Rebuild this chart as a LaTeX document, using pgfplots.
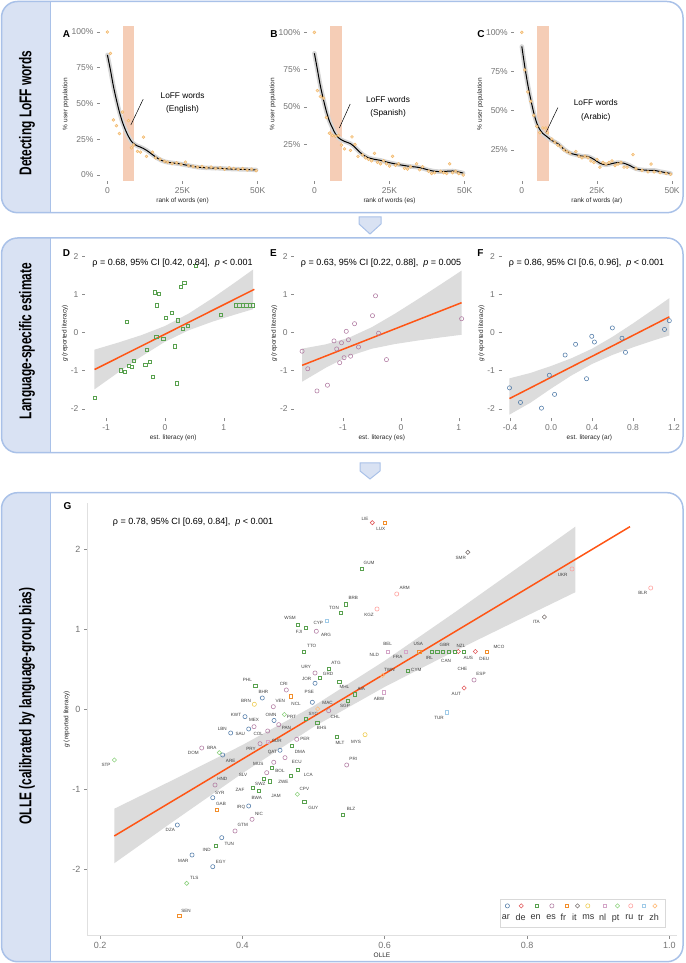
\documentclass[border=0pt]{standalone}
\usepackage{fontspec}
\setmainfont{Liberation Sans}
\newfontfamily\stripfont{Liberation Sans}[FakeStretch=0.7]
\usepackage{pgfplots}
\usepackage{pgfplotstable}
\pgfplotsset{compat=1.18}

\definecolor{boxline}{HTML}{A9C1E8}
\definecolor{stripfill}{HTML}{D9E2F3}
\definecolor{peach}{HTML}{F5CDB6}
\definecolor{dotor}{HTML}{F2B35E}
\definecolor{regline}{HTML}{FF5515}
\definecolor{bandc}{HTML}{DCDCDC}
\definecolor{cAR}{HTML}{4E79A7}
\definecolor{cDE}{HTML}{E15759}
\definecolor{cEN}{HTML}{59A14F}
\definecolor{cES}{HTML}{B07AA1}
\definecolor{cFR}{HTML}{F28E2B}
\definecolor{cIT}{HTML}{79706E}
\definecolor{cMS}{HTML}{EDC948}
\definecolor{cNL}{HTML}{D4A6C8}
\definecolor{cPT}{HTML}{8CD17D}
\definecolor{cRU}{HTML}{FF9D9A}
\definecolor{cTR}{HTML}{A0CBE8}
\definecolor{cZH}{HTML}{FFBE7D}

\pgfplotstableread{
x y
0 84
1 73.5
2 62
3 52.5
4 44
5 37
6 31.5
7 27
8 23.5
9 21.5
10 20.3
11 19.5
12 18.5
13 17.3
14 15.8
15 14.2
16 12.7
17 11.3
18 10.2
19 9.4
20 8.9
22 8.3
24 7.8
26 7
28 6.2
30 5.5
32 5.1
34 4.9
36 4.8
38 4.6
40 4.3
42 4.1
44 4.0
46 3.9
48 3.7
49.5 3.5
}\curveA
\pgfplotstableread{
x y
0 86
1 75
2 64
3 55
4 47
5 40.5
6 36
7 32
8 29.5
9 28
10 27
11 26.3
12 25.5
13 24
14 22
15 20
16 18.3
17 17
18 16
20 15
22 14.3
24 13.2
26 12.3
28 11.5
30 10.8
32 10.2
34 9.8
36 9
38 7.8
40 7
42 6.8
44 7
46 7.2
48 6.5
49.5 5.8
}\curveB
\pgfplotstableread{
x y
0 91
1 78
2 66.5
3 57
4 48.5
5 42
6 38
7 35.5
8 34
9 32.5
10 31
12 29
14 25.5
16 23
18 22
20 21
22 20.8
24 19
26 16.5
28 15.5
30 16.3
32 17
34 16.5
36 15
38 13
40 12.3
42 12
44 12
46 11.2
48 10.5
49.5 10
}\curveC

\pgfplotstableread{
x y lab
0.4670 1.1347 WSM
0.4796 0.9601 FJI
0.5067 1.0798 CYP
0.5176 0.9302 ARG
0.5288 1.2631 TON
0.5559 1.3915 BRB
0.4975 0.7893 TTO
0.5316 0.5773 ATG
0.4895 0.5274 URY
0.5204 0.4364 GRD
0.4904 0.3816 JOR
0.5433 0.2743 MHL
0.4070 0.3616 PHL
0.4581 0.3155 CRI
0.4295 0.2120 BHR
0.4941 0.2195 PSE
0.4051 0.1035 BRN
0.4533 0.1035 VEN
0.4754 0.0698 NCL
0.5197 0.0823 MAC
0.5442 0.0449 SGP
0.4997 -0.0623 SYC
0.5305 -0.0923 CHL
0.3911 -0.0711 KWT
0.4403 -0.0673 OMN
0.4691 -0.0998 PRT
0.4164 -0.1334 MEX
0.5115 -0.2369 BHS
0.3718 -0.2494 LBN
0.3971 -0.3117 SAU
0.4224 -0.3117 COL
0.4618 -0.2369 PAN
0.4880 -0.3703 PER
0.5372 -0.4165 MLT
0.5597 -0.4015 MYS
0.4122 -0.4950 PRY
0.4483 -0.3953 SUR
0.4421 -0.5362 QAT
0.4810 -0.5287 DMA
0.3311 -0.5412 DOM
0.3570 -0.4788 BRA
0.3836 -0.6446 ARE
0.4224 -0.6821 MUS
0.4764 -0.6609 ECU
0.4529 -0.7693 BOL
0.5559 -0.6197 PRI
0.2084 -0.6983 STP
0.4009 -0.8192 SLV
0.3718 -0.8691 HND
0.4927 -0.8192 LCA
0.4576 -0.9028 ZWE
0.4252 -0.9314 SWZ
0.3967 -1.0062 ZAF
0.4202 -1.1023 BWA
0.4473 -1.0811 JAM
0.4871 -0.9975 CPV
0.4997 -1.2269 GUY
0.5527 -1.2394 BLZ
0.3682 -1.0474 SYR
0.3700 -1.1846 GAB
0.3981 -1.2269 IRQ
0.4234 -1.3055 NIC
0.4005 -1.4427 GTM
0.2988 -1.5087 DZA
0.3817 -1.6758 TUN
0.3499 -1.7544 IND
0.3170 -1.8915 MAR
0.3696 -1.9003 EGY
0.3325 -2.0998 TLS
0.3208 -2.5113 SEN
0.5724 2.3691 LIE
0.5944 2.2519 LUX
0.7068 1.8903 SMR
0.5780 1.8280 GUM
0.8501 1.6708 UKR
0.9626 1.4464 BLR
0.6281 1.5087 ARM
0.5780 1.1758 KGZ
0.8130 1.0848 ITA
0.6042 0.8142 BEL
0.5854 0.6808 NLD
0.6183 0.6484 FRA
0.6472 0.8142 USA
0.6627 0.6397 IRL
0.6843 0.8055 GBR
0.6862 0.6060 CAN
0.7072 0.7930 NZL
0.7175 0.6397 AUS
0.7400 0.6309 DEU
0.7606 0.7768 MCO
0.7091 0.5025 CHE
0.7353 0.4364 ESP
0.7006 0.1908 AUT
0.6065 0.4900 TWN
0.6444 0.4938 CYM
0.5671 0.2531 AIA
0.5920 0.1284 ABW
0.6763 -0.1047 TUR
}\labelsG

\pgfplotsset{
  base/.style={scale only axis, anchor=south west,
    axis x line*=bottom, axis y line*=left, axis line style={draw=none},
    tick style={draw=black!45, line width=0.5pt}, major tick length=3pt, tick align=outside,
    ticklabel style={font=\fontsize{8.5}{9}\selectfont, text=black!55},
    xlabel style={font=\fontsize{6.5}{7}\selectfont, text=black!85, yshift=3pt},
    ylabel style={font=\fontsize{6.5}{7}\selectfont, text=black!85, yshift=-4pt},
    /pgf/number format/assume math mode=true},
  topax/.style={base, width=165.3pt, height=154pt, xmin=-2.5, xmax=52.5,
    xtick={0,25,50}, xticklabels={0,25K,50K}, ylabel={\% user population}},
  midax/.style={base, height=170pt, ymin=-2.25, ymax=2.2,
    ytick={-2,-1,0,1,2}, yticklabels={-2,-1,0,1,2},
    ylabel={\textit{g} (reported literacy)}},
  pts/.style={only marks, mark=*, mark size=1.45pt, line width=0.5pt,
    mark options={draw=dotor, fill=dotor!45}, opacity=0.9},
  sc/.style={only marks, mark size=1.7pt, line width=0.55pt,
    legend image code/.code={\draw[##1] plot coordinates {(0pt,12pt)};}},
  circ/.style={sc, mark=o, mark size=2.1pt},
  sq/.style={sc, mark=square, mark size=1.6pt},
  dia/.style={sc, mark=square, mark size=1.5pt, mark options={rotate=45}},
  band/.style={gray!32, line width=4.5pt, smooth, line cap=round, line join=round},
}

\begin{document}
\begin{tikzpicture}[x=1pt,y=1pt]
\useasboundingbox (0,0) rectangle (685,963);

% ---- section boxes ----
\foreach \yb/\yt in {750.3/961.5, 510.3/725, 1.3/470.3} {
  \begin{scope}
    \clip[rounded corners=16pt] (1.5,\yb) rectangle (683,\yt);
    \fill[stripfill] (1.5,\yb) rectangle (50,\yt);
  \end{scope}
  \draw[boxline, line width=1.5pt, rounded corners=16pt] (1.5,\yb) rectangle (683,\yt);
  \draw[boxline, line width=1pt] (50,\yb) -- (50,\yt);
}
\filldraw[fill=stripfill, draw=boxline, line width=1pt] (359,746) -- (381,746) -- (381,739) -- (370,729) -- (359,739) -- cycle;
\filldraw[fill=stripfill, draw=boxline, line width=1pt] (360,500) -- (380,500) -- (380,492) -- (370,484) -- (360,492) -- cycle;

\node[rotate=90, font=\stripfont\bfseries\fontsize{17}{18}\selectfont] at (27,850) {Detecting LoFF words};
\node[rotate=90, font=\stripfont\bfseries\fontsize{17}{18}\selectfont] at (27,622) {Language-specific estimate};
\node[rotate=90, font=\stripfont\bfseries\fontsize{17}{18}\selectfont] at (27,257) {OLLE (calibrated by language-group bias)};

% panel letters
\foreach \lx/\ly/\lt in {66.5/929/A, 274/929/B, 481/929/C, 66.5/710/D, 273.5/710/E, 480.5/710/F, 67.5/456.5/G}
  \node[font=\bfseries\fontsize{10}{11}\selectfont] at (\lx,\ly) {\lt};

% ================= A =================
\begin{axis}[topax, at={(99.9pt,782pt)}, ymin=-4.2, ymax=103.5,
  ytick={0,25,50,75,100}, yticklabels={0\%,25\%,50\%,75\%,100\%}, xlabel={rank of words (en)}]
\addplot[fill=peach, draw=none] coordinates {(5.2,-10) (9,-10) (9,200) (5.2,200)} -- cycle;
\addplot[band] table {\curveA};
\addplot[pts] coordinates {(0,100) (1,85) (2,38.5) (3,34.5) (4,29) (5,44) (7,38) (8,19) (8.7,21) (10,16.5) (11,16) (12,26.5) (13,13) (15,16) (16,12) (17.5,11) (19,9.5) (20,9) (21.5,8) (23,8.5) (24.5,7.5) (26,9) (27,6.5) (28.5,6) (30,5.5) (31.5,6) (33,5) (34.5,5.5) (36,4.5) (37.5,5) (39,4) (40.5,5) (42,4.5) (43.5,4) (45,4.5) (46.5,3.5) (48,4) (49.5,3)};
\addplot[black, line width=1pt, smooth] table {\curveA};
\draw[black, line width=0.5pt] (axis cs:7.8,35) -- (axis cs:11.9,53);
\node[align=center, font=\fontsize{8.3}{13.3}\selectfont] at (axis cs:25,50.3) {LoFF words\\(English)};
\end{axis}

% ================= B =================
\begin{axis}[topax, at={(306.9pt,782pt)}, ymin=0.5, ymax=103.6,
  ytick={25,50,75,100}, yticklabels={25\%,50\%,75\%,100\%}, xlabel={rank of words (es)}]
\addplot[fill=peach, draw=none] coordinates {(5.1,-10) (9.2,-10) (9.2,200) (5.1,200)} -- cycle;
\addplot[band] table {\curveB};
\addplot[pts] coordinates {(0,100) (1,61) (2,57) (3,56) (4,43) (5,32.5) (6,31) (7,30.5) (8,31) (9,24.5) (10,22) (12,21) (12.5,30) (13.5,25) (14.5,17) (16,18) (17,16) (18,15) (19,14) (20,19) (21,13) (22,12) (23,14) (24,12) (25,10.5) (26,17) (27,11) (28,12) (30,9) (31,8.5) (32,10) (34,12) (35,8) (36,10) (38,7) (39,5.5) (40,6) (42,7) (43,6) (44,5.5) (45,12) (46,6) (47,7) (48,5.5) (49.5,4.5)};
\addplot[black, line width=1pt, smooth] table {\curveB};
\draw[black, line width=0.5pt] (axis cs:8.3,36) -- (axis cs:11.9,52);
\node[align=center, font=\fontsize{8.3}{13.3}\selectfont] at (axis cs:24.5,50) {LoFF words\\(Spanish)};
\end{axis}

% ================= C =================
\begin{axis}[topax, at={(514.3pt,782pt)}, ymin=5.2, ymax=103.4,
  ytick={25,50,75,100}, yticklabels={25\%,50\%,75\%,100\%}, xlabel={rank of words (ar)}]
\addplot[fill=peach, draw=none] coordinates {(5,-10) (9.1,-10) (9.1,200) (5,200)} -- cycle;
\addplot[band] table {\curveC};
\addplot[pts] coordinates {(0,100) (1,76) (2,62) (3,56) (4,47) (5,40) (6,36) (7,39) (8,39) (8.5,36) (10,32) (11,30) (12,28) (13,27) (14,25) (15,24) (16,23) (18,24) (19,21) (20,20) (21,21) (22,20) (23,18) (24,17) (25,19) (26,14) (27,17) (28,16) (29,17) (30,18) (31,15) (32,16) (33,17) (34,14) (35,14) (37,22) (38,13) (40,12) (42,11) (43,16) (44,11) (46,10.5) (48,10) (49.5,9.5)};
\addplot[black, line width=1pt, smooth] table {\curveC};
\draw[black, line width=0.5pt] (axis cs:8,36) -- (axis cs:12,52);
\node[align=center, font=\fontsize{8.3}{13.3}\selectfont] at (axis cs:24.6,50.2) {LoFF words\\(Arabic)};
\end{axis}

% ================= D =================
\begin{axis}[midax, at={(85pt,544.55pt)}, width=176.4pt, xmin=-1.36, xmax=1.64,
  xtick={-1,0,1}, xticklabels={-1,0,1}, xlabel={est. literacy (en)}]
\addplot[fill=bandc, draw=none] coordinates {(-1.2,-0.45) (-0.8,-0.267) (-0.4,-0.069) (0,0.17) (0.4,0.493) (0.8,0.89) (1.2,1.319) (1.5,1.65) (1.5,0.61) (1.2,0.473) (0.8,0.28) (0.4,0.055) (0,-0.244) (-0.4,-0.627) (-0.8,-1.051) (-1.2,-1.49)} -- cycle;
\addplot[sq, cEN] coordinates {(-1.197,-1.71) (-0.758,-0.99) (-0.677,-1.03) (-0.654,0.28) (-0.61,-0.88) (-0.558,-0.9) (-0.528,-0.74) (-0.335,-0.84) (-0.305,-0.46) (-0.26,-0.77) (-0.208,-1.16) (-0.178,1.05) (-0.149,-0.12) (-0.134,0.71) (-0.104,1.01) (-0.03,-0.17) (0.015,0.38) (0.119,0.51) (0.164,-0.36) (0.2,-1.33) (0.223,0.32) (0.268,1.19) (0.297,0.1) (0.327,1.3) (0.387,0.17) (0.52,1.74) (0.944,0.47) (1.204,0.71) (1.264,0.71) (1.323,0.71) (1.383,0.71) (1.442,0.71) (1.5,0.71)};
\addplot[regline, line width=1.5pt] coordinates {(-1.197,-0.97) (1.52,1.13)};
\end{axis}
\node[font=\fontsize{9}{10}\selectfont] at (172.5,700.3) {ρ = 0.68, 95\% CI [0.42, 0.84],\ \ \textit{p} < 0.001};

% ================= E =================
\begin{axis}[midax, at={(294.1pt,544.55pt)}, width=175.5pt, xmin=-1.844, xmax=1.187,
  xtick={-1,0,1}, xticklabels={-1,0,1}, xlabel={est. literacy (es)}]
\addplot[fill=bandc, draw=none] coordinates {(-1.706,-0.423) (-1.3,-0.311) (-0.9,-0.139) (-0.5,0.14) (-0.1,0.494) (0.3,0.877) (0.7,1.271) (1.049,1.62) (1.049,-0.06) (0.7,-0.127) (0.3,-0.209) (-0.1,-0.302) (-0.5,-0.424) (-0.9,-0.621) (-1.3,-0.925) (-1.706,-1.289)} -- cycle;
\addplot[circ, cES] coordinates {(-1.706,-0.49) (-1.608,-0.95) (-1.449,-1.53) (-1.268,-1.38) (-1.155,-0.22) (-1.109,-0.43) (-1.057,-0.79) (-1.026,-0.27) (-0.981,-0.66) (-0.943,0.03) (-0.906,-0.19) (-0.868,-0.62) (-0.8,0.23) (-0.732,-0.38) (-0.49,0.44) (-0.438,0.96) (-0.385,-0.02) (-0.249,-0.71) (1.049,0.36)};
\addplot[regline, line width=1.5pt] coordinates {(-1.706,-0.86) (1.049,0.78)};
\end{axis}
\node[font=\fontsize{9}{10}\selectfont] at (381,700.3) {ρ = 0.63, 95\% CI [0.22, 0.88],\ \ \textit{p} = 0.005};

% ================= F =================
\begin{axis}[midax, at={(501.5pt,544.55pt)}, width=175.8pt, xmin=-0.484, xmax=1.232,
  xtick={-0.4,0,0.4,0.8,1.2}, xticklabels={-0.4,0.0,0.4,0.8,1.2}, xlabel={est. literacy (ar)}]
\addplot[fill=bandc, draw=none] coordinates {(-0.406,-1.2) (-0.2,-1.058) (0,-0.877) (0.2,-0.673) (0.4,-0.424) (0.6,-0.112) (0.8,0.238) (1.0,0.608) (1.154,0.898) (1.154,-0.078) (1.0,-0.208) (0.8,-0.388) (0.6,-0.586) (0.4,-0.824) (0.2,-1.123) (0,-1.469) (-0.2,-1.836) (-0.406,-2.15)} -- cycle;
\addplot[circ, cAR] coordinates {(-0.406,-1.45) (-0.299,-1.83) (-0.094,-1.98) (-0.017,-1.12) (0.034,-1.62) (0.137,-0.59) (0.239,-0.31) (0.346,-1.21) (0.397,-0.1) (0.423,-0.25) (0.598,0.12) (0.692,-0.15) (0.726,-0.52) (1.107,0.08) (1.154,0.31)};
\addplot[regline, line width=1.5pt] coordinates {(-0.406,-1.73) (1.154,0.41)};
\end{axis}
\node[font=\fontsize{9}{10}\selectfont] at (586.5,700.3) {ρ = 0.86, 95\% CI [0.6, 0.96],\ \ \textit{p} < 0.001};

% ================= G =================
\begin{axis}[base, at={(87pt,27.3pt)}, width=590pt, height=432.7pt,
  xmin=0.1817, xmax=1.0107, ymin=-2.823, ymax=2.572,
  axis line style={draw=black!12, line width=0.8pt},
  ticklabel style={font=\fontsize{9}{10}\selectfont, text=black!55},
  xtick={0.2,0.4,0.6,0.8,1.0}, xticklabels={0.2,0.4,0.6,0.8,1.0},
  ytick={-2,-1,0,1,2}, yticklabels={-2,-1,0,1,2},
  xlabel={OLLE}, xlabel style={font=\fontsize{6.5}{7}\selectfont},
  ylabel={\textit{g} (reported literacy)},
  legend columns=12,
  legend style={at={(0.98,0.0185)}, anchor=south east, draw=black!15, line width=0.6pt,
    font=\fontsize{9}{10}\selectfont, text=black!80, inner xsep=5pt, inner ysep=4.5pt,
    nodes={inner sep=1pt},
    /tikz/every odd column/.append style={column sep=-8.6pt},
    /tikz/every even column/.append style={column sep=8.2pt}},
]
\addplot[fill=bandc, draw=none, forget plot] coordinates {(0.22,-1.24) (0.3,-0.892) (0.4,-0.446) (0.5,0.04) (0.6,0.605) (0.7,1.218) (0.8,1.847) (0.868,2.278) (0.868,1.46) (0.8,1.167) (0.7,0.732) (0.6,0.279) (0.5,-0.22) (0.4,-0.798) (0.3,-1.416) (0.22,-1.92)} -- cycle;
\addplot[regline, line width=1.5pt, forget plot] coordinates {(0.22,-1.58) (0.9447,2.277)};

\addplot[circ, cAR] coordinates {(0.5021,0.3242) (0.4280,0.1409) (0.4983,0.0873) (0.4037,-0.0923) (0.4445,-0.1397) (0.3836,-0.2955) (0.4089,-0.2456) (0.4529,-0.5112) (0.3724,-0.5698) (0.3584,-1.1023) (0.4089,-1.2058) (0.3086,-1.4427) (0.3710,-1.6010) (0.3293,-1.8167) (0.3584,-1.9626)};
\addlegendentry{ar}
\addplot[dia, cDE] coordinates {(0.5826,2.3267) (0.7035,0.72) (0.7273,0.72) (0.7115,0.2656)};
\addlegendentry{de}
\addplot[sq, cEN] coordinates {(0.4782,1.0549) (0.4890,1.0175) (0.5386,1.2008) (0.5452,1.3092) (0.4866,0.7182) (0.5218,0.5062) (0.5091,0.3940) (0.5362,0.3441) (0.4182,0.2943) (0.5485,0.1072) (0.4890,-0.1210) (0.5053,-0.1671) (0.5330,-0.3454) (0.4698,-0.4539) (0.4417,-0.7282) (0.4782,-0.7569) (0.4680,-0.8317) (0.4304,-0.8653) (0.4389,-0.8978) (0.4146,-0.9776) (0.4234,-1.0150) (0.4871,-1.1521) (0.5410,-1.3142) (0.3630,-1.7008) (0.5681,1.7531) (0.6665,0.72) (0.6739,0.72) (0.6819,0.72) (0.6904,0.72) (0.6979,0.72) (0.7113,0.72) (0.6323,0.4776) (0.5583,0.1870)};
\addlegendentry{en}
\addplot[circ, cES] coordinates {(0.5039,0.9726) (0.5021,0.4526) (0.4618,0.2407) (0.4435,0.0324) (0.5213,-0.0175) (0.4164,-0.2170) (0.4356,-0.2706) (0.4511,-0.1920) (0.4764,-0.3741) (0.4248,-0.4289) (0.3429,-0.4825) (0.4441,-0.6609) (0.4599,-0.6035) (0.5466,-0.6945) (0.4342,-0.7905) (0.3616,-0.9439) (0.4136,-1.3716) (0.3897,-1.5175) (0.7255,0.3653)};
\addlegendentry{es}
\addplot[sq, cFR] coordinates {(0.4684,0.1621) (0.6004,2.3267) (0.3640,-1.2556) (0.3114,-2.5773) (0.6487,0.72) (0.7433,0.72)};
\addlegendentry{fr}
\addplot[dia, cIT] coordinates {(0.7167,1.9576) (0.8243,1.1509)};
\addlegendentry{it}
\addplot[circ, cMS] coordinates {(0.4168,0.0623) (0.5724,-0.3167)};
\addlegendentry{ms}
\addplot[sq, cNL] coordinates {(0.4356,-0.4077) (0.6042,0.72) (0.6300,0.72) (0.5990,0.2120)};
\addlegendentry{nl}
\addplot[dia, cPT] coordinates {(0.4590,-0.0648) (0.3676,-0.5412) (0.2201,-0.6322) (0.4772,-1.0599) (0.3218,-2.1696)};
\addlegendentry{pt}
\addplot[circ, cRU] coordinates {(0.8632,1.7494) (0.9738,1.5125) (0.6169,1.4377) (0.5892,1.2506)};
\addlegendentry{ru}
\addplot[sq, cTR] coordinates {(0.5185,1.1048) (0.6871,-0.0374)};
\addlegendentry{tr}
\addplot[dia, cZH] coordinates {(0.5059,0.0037) (0.5972,0.4215)};
\addlegendentry{zh}

\addplot[only marks, mark=none, forget plot, nodes near coords, point meta=explicit symbolic,
  every node near coord/.append style={anchor=center, inner sep=0pt, font=\fontsize{4.6}{5}\selectfont, text=black!75}]
  table[x=x, y=y, meta=lab] {\labelsG};
\end{axis}
\node[font=\fontsize{9}{10}\selectfont] at (193,441.3) {ρ = 0.78, 95\% CI [0.69, 0.84],\ \ \textit{p} < 0.001};

\end{tikzpicture}
\end{document}
